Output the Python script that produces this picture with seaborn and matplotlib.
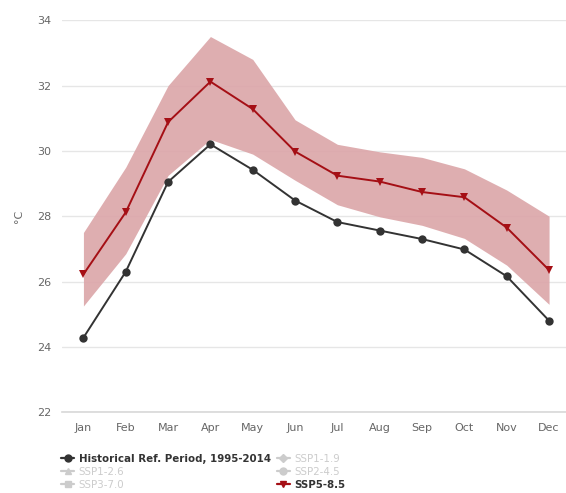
import matplotlib
matplotlib.use("Agg")
import matplotlib.pyplot as plt
from matplotlib.lines import Line2D
import pandas as pd
import seaborn as sns

months = ["Jan", "Feb", "Mar", "Apr", "May", "Jun", "Jul", "Aug", "Sep", "Oct", "Nov", "Dec"]
historical = [24.28, 26.3, 29.05, 30.2, 29.42, 28.48, 27.82, 27.56, 27.3, 26.98, 26.16, 24.8]
ssp585 = [26.22, 28.12, 30.88, 32.12, 31.28, 29.98, 29.24, 29.06, 28.74, 28.58, 27.65, 26.35]
ssp585_high = [27.5, 29.5, 32.0, 33.5, 32.8, 30.95, 30.2, 29.97, 29.8, 29.45, 28.8, 28.0]
ssp585_low = [25.25, 26.85, 29.25, 30.35, 29.9, 29.1, 28.35, 27.98, 27.72, 27.32, 26.5, 25.3]
legend_labels = ["Historical Ref. Period, 1995-2014", "SSP1-2.6", "SSP3-7.0",
                 "SSP1-1.9", "SSP2-4.5", "SSP5-8.5"]

HIST_COLOR = "#333333"
SSP_COLOR = "#a50f15"
BAND_COLOR = "#dba5a8"
OFF_COLOR = "#cccccc"

sns.set_theme(style="white")
plt.rcParams["font.family"] = ["DejaVu Sans"]

df = pd.DataFrame({
    "x": list(range(12)) * 2,
    "temp": historical + ssp585,
    "series": ["hist"] * 12 + ["ssp585"] * 12,
})

fig = plt.figure(figsize=(5.66, 4.93), dpi=100)
ax = fig.add_axes([0.11, 0.164, 0.89, 0.795])

ax.fill_between(range(12), ssp585_low, ssp585_high, color=BAND_COLOR, alpha=0.9,
                linewidth=0, zorder=1)
sns.lineplot(data=df[df.series == "hist"], x="x", y="temp", color=HIST_COLOR,
             marker="o", markersize=6, markeredgewidth=0, linewidth=1.4, ax=ax, zorder=3)
sns.lineplot(data=df[df.series == "ssp585"], x="x", y="temp", color=SSP_COLOR,
             marker="v", markersize=6, markeredgewidth=0, linewidth=1.4, ax=ax, zorder=4)

ax.set_xlim(-0.5, 11.4)
ax.set_ylim(22, 34)
ax.set_yticks(range(22, 35, 2))
ax.set_xticks(range(12))
ax.set_xticklabels(months)
ax.tick_params(axis="both", length=0, labelsize=8, labelcolor="#666666")
ax.tick_params(axis="x", pad=8)
ax.tick_params(axis="y", pad=18)
ax.yaxis.grid(True, color="#e6e6e6", linewidth=1)
ax.set_axisbelow(True)
for s in ["top", "right", "left"]:
    ax.spines[s].set_visible(False)
ax.spines["bottom"].set_color("#d8d8d8")
ax.spines["bottom"].set_linewidth(1.2)
ax.set_xlabel("")
ax.set_ylabel("°C", fontsize=8, color="#666666")
ax.yaxis.set_label_coords(-0.075, 0.5)
for lbl in ax.get_yticklabels():
    lbl.set_horizontalalignment("left")

handles = [
    Line2D([], [], color=HIST_COLOR, marker="o", markersize=5, linewidth=1.6),
    Line2D([], [], color=OFF_COLOR, marker="^", markersize=5, linewidth=1.6),
    Line2D([], [], color=OFF_COLOR, marker="s", markersize=4, linewidth=1.6),
    Line2D([], [], color=OFF_COLOR, marker="D", markersize=4, linewidth=1.6),
    Line2D([], [], color=OFF_COLOR, marker="o", markersize=5, linewidth=1.6),
    Line2D([], [], color=SSP_COLOR, marker="v", markersize=5, linewidth=1.6),
]
leg = fig.legend(handles, legend_labels, ncol=2, loc="upper left",
                 bbox_to_anchor=(0.108, 0.08), frameon=False, fontsize=7.4,
                 handlelength=1.3, handletextpad=0.4, columnspacing=0.6,
                 labelspacing=0.3, borderaxespad=0, borderpad=0)
text_colors = [HIST_COLOR, OFF_COLOR, OFF_COLOR, OFF_COLOR, OFF_COLOR, HIST_COLOR]
for t, c in zip(leg.get_texts(), text_colors):
    t.set_color(c)
leg.get_texts()[0].set_fontweight("bold")
leg.get_texts()[5].set_fontweight("bold")

fig.savefig("out.png", dpi=100)
